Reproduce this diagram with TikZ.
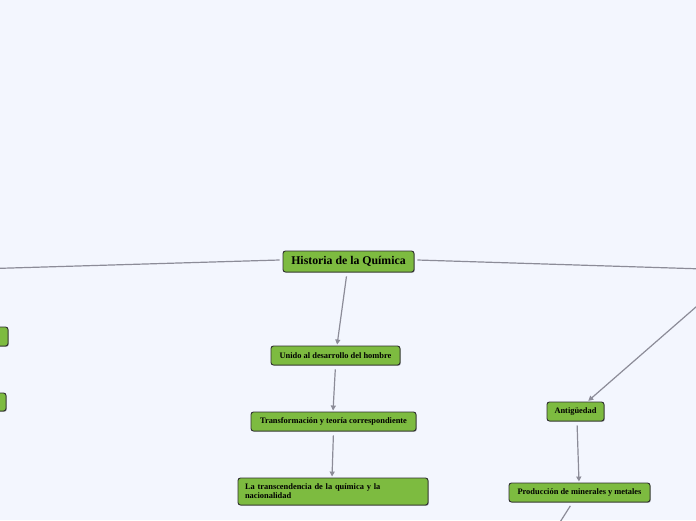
\documentclass[tikz,border=0pt]{standalone}
\usepackage{fontspec}
\setmainfont{Liberation Serif}
\usetikzlibrary{shadows,arrows.meta}
\definecolor{bg}{HTML}{F3F6FE}
\definecolor{boxgreen}{HTML}{7DBB40}
\definecolor{boxedge}{HTML}{2E2E2E}
\definecolor{linegray}{HTML}{8C8C98}
\tikzset{
  topic/.style={draw=boxedge, line width=0.9pt, fill=boxgreen, rounded corners=2.5pt,
    inner sep=0pt, font=\bfseries\fontsize{8.4}{9}\selectfont, text=black,
    drop shadow={shadow xshift=0.8pt, shadow yshift=-0.8pt, opacity=0.35, fill=black}},
  conn/.style={draw=linegray, line width=1.2pt},
  arr/.style={conn, -{Triangle[length=5pt,width=5pt]}, shorten >=1pt, shorten <=4pt}
}
\begin{document}
\begin{tikzpicture}[x=1pt,y=-1pt]
\fill[bg] (0,0) rectangle (696,520);
\useasboundingbox (0,0) rectangle (696,520);
% nodes
\node[topic, minimum width=131pt, minimum height=21pt, font=\bfseries\fontsize{11.8}{13}\selectfont] (root) at (348.5,261.5) {Historia de la Química};
\node[topic, minimum width=60pt, minimum height=19pt] (left1) at (-22,336.5) {};
\node[topic, minimum width=60pt, minimum height=18pt] (left2) at (-24,402) {};
\node[topic, minimum width=129pt, minimum height=19pt] (unido) at (335.5,355.5) {Unido al desarrollo del hombre};
\node[topic, minimum width=165pt, minimum height=19pt] (transf) at (333.5,421.5) {Transformación y teoría correspondiente};
\node[topic, minimum width=190pt, minimum height=27pt, align=left, text width=176pt, inner xsep=7pt, font=\bfseries\fontsize{8.4}{8.8}\selectfont] (transc) at (333,491.5) {La transcendencia de la química y la\\nacionalidad};
\node[topic, minimum width=57pt, minimum height=19pt] (antig) at (575.5,411.5) {Antigüedad};
\node[topic, minimum width=141pt, minimum height=19pt] (prod) at (579.5,492.5) {Producción de minerales y metales};
% off-page ends
\coordinate (offL) at (-40,269.5);
\coordinate (offR) at (736,270);
\coordinate (offRB) at (720,286);
\coordinate (offB) at (555,530);
% connectors
\draw[conn] ([xshift=-3pt,yshift=1.5pt]root.west) -- (offL);
\draw[conn] ([xshift=3pt,yshift=1.5pt]root.east) -- (offR);
\draw[arr, shorten <=0pt] (offRB) -- ([xshift=12pt]antig.north);
\draw[arr] ([xshift=-1.5pt]root.south) -- ([xshift=1.5pt]unido.north);
\draw[arr] (unido.south) -- ([xshift=-0.5pt]transf.north);
\draw[arr] (transf.south) -- ([xshift=-1pt]transc.north);
\draw[arr] ([xshift=1.5pt]antig.south) -- ([xshift=-0.5pt]prod.north);
\draw[conn, shorten <=4pt] ([xshift=-7pt]prod.south) -- (offB);
\end{tikzpicture}
\end{document}
